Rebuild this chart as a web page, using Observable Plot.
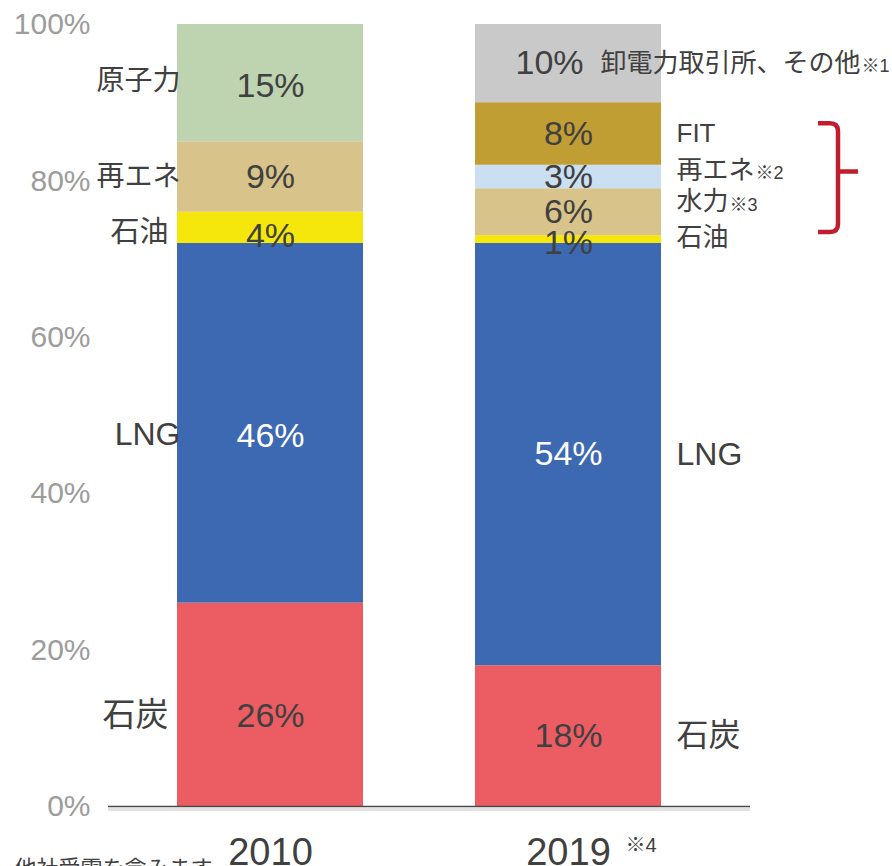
<!DOCTYPE html>
<html><head><meta charset="utf-8">
<script src="https://cdn.jsdelivr.net/npm/d3@7"></script>
<script src="https://cdn.jsdelivr.net/npm/@observablehq/plot@0.6"></script>
<style>
body{margin:0;background:#fff}
#chart{position:relative;width:892px;height:866px;overflow:hidden}
</style>
</head><body><div id="chart"></div>
<script>
// ---- data ----
const years = ["2010", "2019"];
const sources2010 = ["石炭", "LNG", "石油", "再エネ", "原子力"];
const values2010 = [26, 46, 4, 9, 15];
const sources2019 = ["石炭", "LNG", "石油", "水力", "再エネ", "FIT", "卸電力取引所、その他"];
const values2019 = [18, 54, 1, 6, 3, 8, 10];
const notes2019 = {"再エネ": "※2", "水力": "※3", "卸電力取引所、その他": "※1"};
const yTicks = [0, 20, 40, 60, 80, 100];
const yearNotes = {"2019": "※4"};
const footnote = "※4 発電電力量は、他社受電を含みます";

// ---- styles ----
const palette = {
  "2010|石炭": "#EC5D63", "2010|LNG": "#3D69B2", "2010|石油": "#F5E70B",
  "2010|再エネ": "#D8C38A", "2010|原子力": "#BED3B0",
  "2019|石炭": "#EC5D63", "2019|LNG": "#3D69B2", "2019|石油": "#F5E70B",
  "2019|水力": "#D8C38A", "2019|再エネ": "#CBDFF2", "2019|FIT": "#C19E34",
  "2019|卸電力取引所、その他": "#C9C9C9"
};
const textDark = "#404040";
const latin = "'Liberation Sans', Arial, sans-serif";
const jp = "'Liberation Sans', 'Noto Sans CJK JP', sans-serif";
// small label nudges (in % units) to mimic reference placement
const pctShift = {"2010|石炭": -1.5, "2010|LNG": -1.6, "2010|石油": -1.0, "2010|原子力": -0.4, "2019|石油": -0.4};
const nameShift = {"2010|石炭": -1.4, "2010|LNG": -1.5, "2010|石油": -0.6, "2010|原子力": 0.3,
  "2019|再エネ": 0.8, "2019|水力": 1.3, "2019|石油": 0.2};
const nearLabels = new Set(["原子力", "再エネ", "LNG"]);
const paddingInner = 0.376;

function build(year, sources, values) {
  let acc = 0;
  return sources.map((s, i) => {
    const y1 = acc; acc += values[i];
    return {year, source: s, value: values[i], y1, y2: acc, mid: (y1 + acc) / 2, key: year + "|" + s};
  });
}
const rows2010 = build("2010", sources2010, values2010);
const rows2019 = build("2019", sources2019, values2019);
const rows = rows2010.concat(rows2019);

const big = new Set(["石炭", "LNG"]);
const other = "卸電力取引所、その他";

const noteMarks = Object.entries(notes2019).map(([src, note]) => {
  const d = rows2019.find(r => r.source === src);
  const baseDx = src === other ? 32 : 108;
  return Plot.text([d], {
    x: "year", y: r => r.mid + (nameShift[r.key] || 0), text: () => note,
    textAnchor: "start", dx: baseDx + src.length * 26 + 1, dy: 3,
    fontSize: 18, fontFamily: jp, fill: textDark
  });
});

function bracket(index, scales) {
  const sx = scales.x, sy = scales.y;
  let bw = typeof sx.bandwidth === "function" ? sx.bandwidth()
    : (scales.scales && scales.scales.x && scales.scales.x.bandwidth);
  if (bw == null) bw = (sx("2019") - sx("2010")) * (1 - paddingInner);
  const right = sx("2019") + bw;
  const fit = rows2019.find(r => r.source === "FIT");
  const oil = rows2019.find(r => r.source === "石油");
  const top = sy(fit.y2) + 21, bottom = sy(oil.y1) - 11;
  const tip = (top + bottom) / 2 - 6;
  const x0 = right + 157, xs = right + 177, xt = right + 197;
  const g = d3.create("svg:g");
  g.append("path")
    .attr("d", `M${x0},${top} L${xs - 8},${top} Q${xs},${top} ${xs},${top + 8} L${xs},${bottom - 8} Q${xs},${bottom} ${xs - 8},${bottom} L${x0},${bottom} M${xs},${tip} L${xt},${tip}`)
    .attr("fill", "none").attr("stroke", "#BE1E2D").attr("stroke-width", 4.5);
  return g.node();
}

const chart = Plot.plot({
  width: 892, height: 866,
  marginTop: 24, marginBottom: 60, marginLeft: 108, marginRight: 142,
  style: {fontFamily: latin, background: "white", overflow: "hidden"},
  x: {domain: years, range: [108, 730], paddingInner: paddingInner, paddingOuter: 0.2315, axis: null},
  y: {domain: [0, 100], axis: null},
  color: {type: "identity"},
  marks: [
    Plot.barY(rows, {x: "year", y1: "y1", y2: "y2", fill: d => palette[d.key]}),
    Plot.ruleY([0], {stroke: "#e2e2e2", strokeWidth: 3, dy: 3}),
    Plot.ruleY([0], {stroke: "#474747", strokeWidth: 1.5}),
    Plot.axisY({ticks: yTicks, tickFormat: d => d + "%", tickSize: 0, tickPadding: 18,
      fontSize: 30, color: "#9c9c9c", label: null}),
    // percentages inside bars
    Plot.text(rows.filter(d => d.source !== other), {
      x: "year", y: d => d.mid + (pctShift[d.key] || 0), text: d => d.value + "%",
      fill: d => d.source === "LNG" ? "white" : textDark, fontSize: 34, fontFamily: latin
    }),
    Plot.text(rows.filter(d => d.source === other), {
      x: "year", y: "mid", text: d => d.value + "%", dx: -19,
      fill: textDark, fontSize: 34, fontFamily: latin
    }),
    // 2010 category labels (left)
    Plot.text(rows2010.filter(d => nearLabels.has(d.source)), {
      x: "year", y: d => d.mid + (nameShift[d.key] || 0), text: "source",
      textAnchor: "end", dx: -90, fontSize: d => big.has(d.source) ? 32 : 28,
      fontFamily: jp, fill: textDark
    }),
    Plot.text(rows2010.filter(d => !nearLabels.has(d.source)), {
      x: "year", y: d => d.mid + (nameShift[d.key] || 0), text: "source",
      textAnchor: "end", dx: -102, fontSize: d => big.has(d.source) ? 33 : 29,
      fontFamily: jp, fill: textDark
    }),
    // 2019 category labels (right)
    Plot.text(rows2019.filter(d => d.source !== other), {
      x: "year", y: d => d.mid + (nameShift[d.key] || 0), text: "source",
      textAnchor: "start", dx: 108, fontSize: d => big.has(d.source) ? 32 : 26,
      fontFamily: jp, fill: textDark
    }),
    Plot.text(rows2019.filter(d => d.source === other), {
      x: "year", y: "mid", text: "source", textAnchor: "start", dx: 32,
      fontSize: 26, fontFamily: jp, fill: textDark
    }),
    ...noteMarks,
    // year labels
    Plot.text(years, {x: d => d, text: d => d, frameAnchor: "bottom", lineAnchor: "top",
      dy: 32, fontSize: 38, fill: textDark, fontFamily: latin}),
    Plot.text(Object.keys(yearNotes), {x: d => d, text: d => yearNotes[d], frameAnchor: "bottom",
      lineAnchor: "top", dy: 31, dx: 57, textAnchor: "start", fontSize: 20, fill: textDark, fontFamily: jp}),
    // footnote (cut off at left edge as in the reference)
    Plot.text([footnote], {frameAnchor: "bottom-left", text: d => d, textAnchor: "end",
      dx: 104, dy: 54, lineAnchor: "top", fontSize: 22, fill: textDark, fontFamily: jp}),
    bracket
  ]
});
document.getElementById("chart").appendChild(chart);
</script>
</body></html>
